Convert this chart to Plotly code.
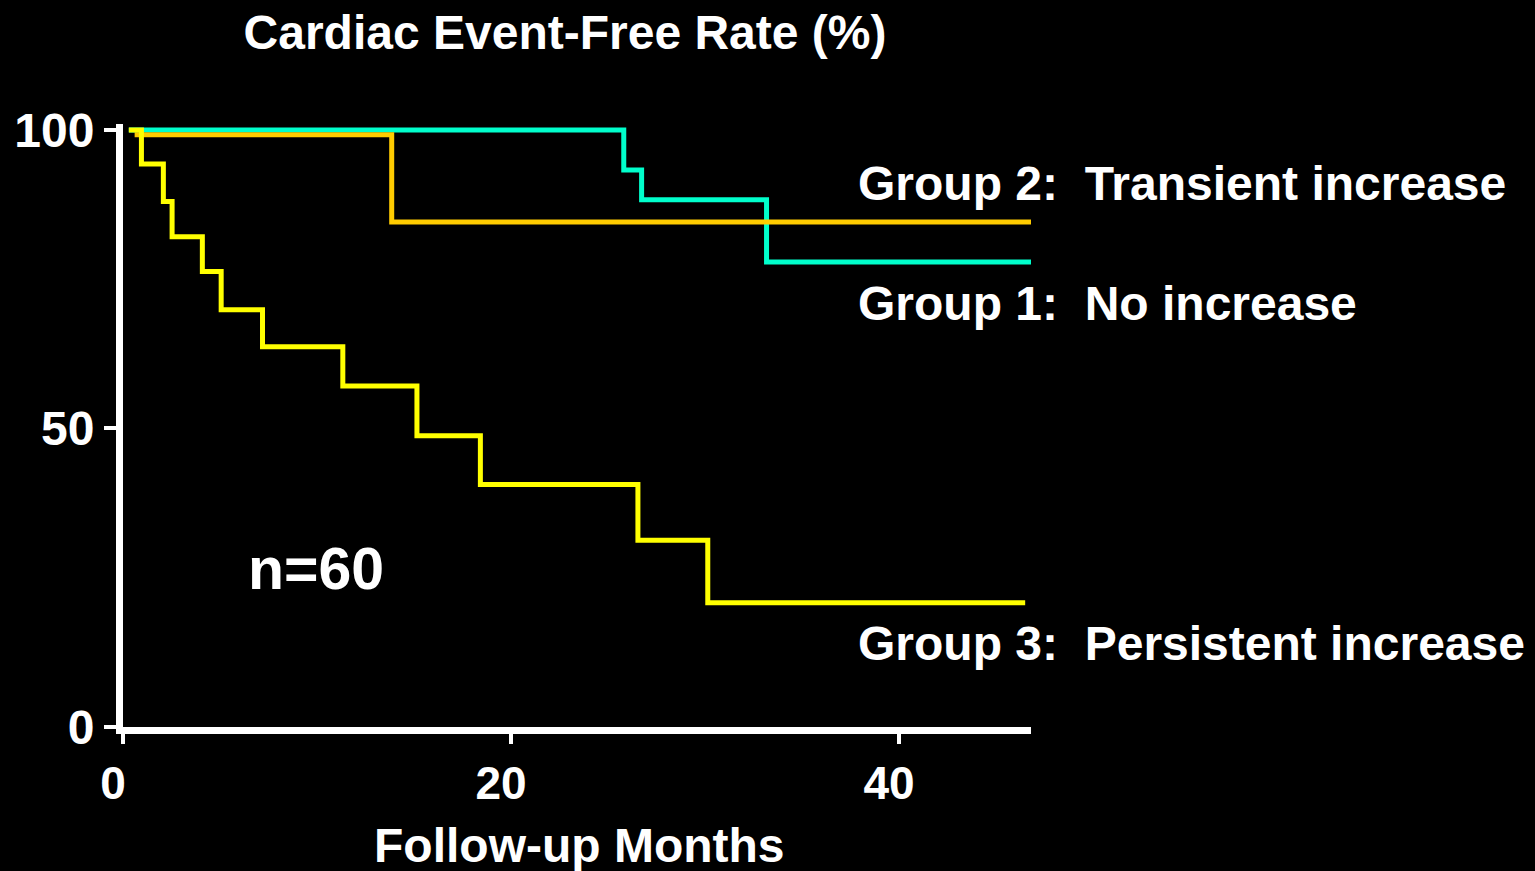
import plotly.graph_objects as go

# Kaplan-Meier style step data (months, event-free %)
g3_months = [0.3, 0.95, 2.08, 2.53, 4.09, 5.06, 7.19, 11.33, 15.15, 18.42, 26.54, 30.14, 46.5]
g3_rate = [100, 94.3, 88.0, 82.1, 76.3, 69.9, 63.7, 57.1, 48.8, 40.6, 31.3, 20.8, 20.8]

g1_months = [0.3, 25.81, 26.73, 33.17, 46.9]
g1_rate = [100, 93.3, 88.3, 77.9, 77.9]

g2_months = [0.6, 13.85, 47.2]
g2_rate = [99.2, 84.6, 84.6]

x_ticks = [0, 20, 40]
y_ticks = [0, 50, 100]

labels = ["Group 2:\u00a0 Transient increase", "Group 1:\u00a0 No increase", "Group 3:\u00a0 Persistent increase"]
label_x = [37.8, 37.8, 37.8]
label_y = [91.0, 71.0, 14.0]

FONT = "Liberation Sans, Arial, sans-serif"

fig = go.Figure()
fig.add_trace(go.Scatter(x=g1_months, y=g1_rate, mode="lines", line=dict(color="#00FFCC", width=5, shape="hv"), showlegend=False))
fig.add_trace(go.Scatter(x=g2_months, y=g2_rate, mode="lines", line=dict(color="#FFCC00", width=5, shape="hv"), showlegend=False))
fig.add_trace(go.Scatter(x=g3_months, y=g3_rate, mode="lines", line=dict(color="#FFFF00", width=5, shape="hv"), showlegend=False))

for t, x, y in zip(labels, label_x, label_y):
    fig.add_annotation(x=x, y=y, xref="x", yref="y", text=t, showarrow=False, xanchor="left", yanchor="middle",
                       font=dict(family=FONT, size=48, color="white", weight="bold"))

fig.add_annotation(x=9.95, y=26.5, xref="x", yref="y", text="n=60", showarrow=False, xanchor="center", yanchor="middle",
                   font=dict(family=FONT, size=59, color="white", weight="bold"))

# x-axis title
fig.add_annotation(x=0.503, y=-0.1957, xref="paper", yref="paper", text="Follow-up Months", showarrow=False,
                   xanchor="center", yanchor="middle", font=dict(family=FONT, size=48, color="white", weight="bold"))

fig.update_layout(
    width=1535, height=871,
    paper_bgcolor="black", plot_bgcolor="black",
    margin=dict(l=123, r=504, t=124, b=144, autoexpand=False),
    title=dict(text="Cardiac Event-Free Rate (%)", x=565 / 1535, y=1 - 32 / 871, xref="container", yref="container",
               xanchor="center", yanchor="middle", font=dict(family=FONT, size=48, color="white", weight="bold")),
    xaxis=dict(range=[0, 46.8], tickvals=x_ticks, showgrid=False, zeroline=False, showline=True, linecolor="white",
               linewidth=7, ticks="outside", ticklen=10, tickwidth=4, tickcolor="white", automargin=False,
               ticklabelshift=-10,
               tickfont=dict(family=FONT, size=46, color="white", weight="bold")),
    yaxis=dict(range=[0, 101], tickvals=y_ticks, showgrid=False, zeroline=False, showline=True, linecolor="white",
               linewidth=7, ticks="outside", ticklen=12, tickwidth=4, tickcolor="white", automargin=False,
               tickfont=dict(family=FONT, size=48, color="white", weight="bold")),
)

fig.write_html("out.html", config={"displayModeBar": False},
               post_script="document.body.style.margin='0';document.body.style.background='black';")
